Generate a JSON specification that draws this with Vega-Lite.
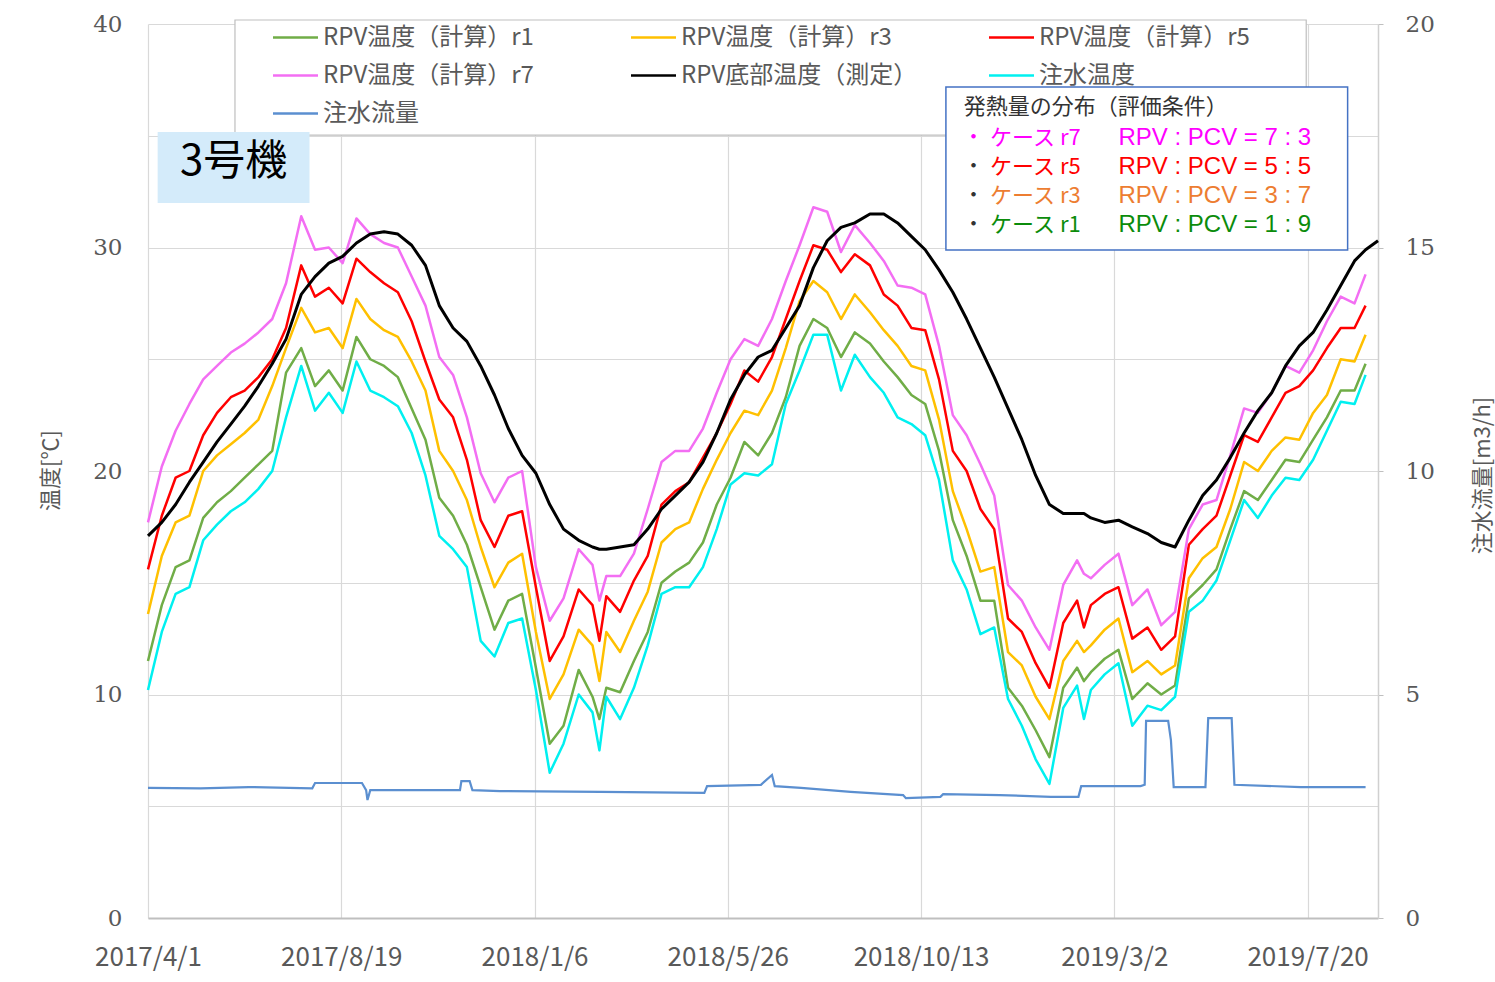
{
  "$schema": "https://vega.github.io/schema/vega-lite/v6.json",
  "width": 1230,
  "height": 894,
  "autosize": {"type": "none"},
  "padding": {"left": 148, "top": 24, "right": 117, "bottom": 64},
  "background": "white",
  "config": {"view": {"stroke": null}, "font": "Noto Sans CJK JP"},
  "datasets": {
    "temps": [
      {"date": "2017-04-01", "w": 10.2, "r1": 11.5, "r3": 13.6, "r5": 15.6, "r7": 17.7, "m": 17.1},
      {"date": "2017-04-11", "w": 12.8, "r1": 14.0, "r3": 16.2, "r5": 18.0, "r7": 20.2, "m": 17.7},
      {"date": "2017-04-21", "w": 14.5, "r1": 15.7, "r3": 17.7, "r5": 19.7, "r7": 21.8, "m": 18.5},
      {"date": "2017-05-01", "w": 14.8, "r1": 16.0, "r3": 18.0, "r5": 20.0, "r7": 23.0, "m": 19.5},
      {"date": "2017-05-11", "w": 16.9, "r1": 17.9, "r3": 20.0, "r5": 21.6, "r7": 24.1, "m": 20.4},
      {"date": "2017-05-21", "w": 17.6, "r1": 18.6, "r3": 20.7, "r5": 22.6, "r7": 24.7, "m": 21.3},
      {"date": "2017-05-31", "w": 18.2, "r1": 19.1, "r3": 21.2, "r5": 23.3, "r7": 25.3, "m": 22.1},
      {"date": "2017-06-10", "w": 18.6, "r1": 19.7, "r3": 21.7, "r5": 23.6, "r7": 25.7, "m": 22.9},
      {"date": "2017-06-20", "w": 19.2, "r1": 20.3, "r3": 22.3, "r5": 24.2, "r7": 26.2, "m": 23.8},
      {"date": "2017-06-30", "w": 20.0, "r1": 20.9, "r3": 23.8, "r5": 25.0, "r7": 26.8, "m": 24.8},
      {"date": "2017-07-10", "w": 22.4, "r1": 24.4, "r3": 25.5, "r5": 26.4, "r7": 28.4, "m": 25.9},
      {"date": "2017-07-21", "w": 24.7, "r1": 25.5, "r3": 27.3, "r5": 29.2, "r7": 31.4, "m": 27.9},
      {"date": "2017-07-31", "w": 22.7, "r1": 23.8, "r3": 26.2, "r5": 27.8, "r7": 29.9, "m": 28.7},
      {"date": "2017-08-10", "w": 23.5, "r1": 24.5, "r3": 26.4, "r5": 28.2, "r7": 30.0, "m": 29.3},
      {"date": "2017-08-20", "w": 22.6, "r1": 23.6, "r3": 25.5, "r5": 27.5, "r7": 29.3, "m": 29.6},
      {"date": "2017-08-30", "w": 24.9, "r1": 26.0, "r3": 27.7, "r5": 29.5, "r7": 31.3, "m": 30.2},
      {"date": "2017-09-09", "w": 23.6, "r1": 25.0, "r3": 26.8, "r5": 28.9, "r7": 30.6, "m": 30.6},
      {"date": "2017-09-19", "w": 23.3, "r1": 24.7, "r3": 26.3, "r5": 28.4, "r7": 30.2, "m": 30.7},
      {"date": "2017-09-29", "w": 22.9, "r1": 24.2, "r3": 26.0, "r5": 28.0, "r7": 30.0, "m": 30.6},
      {"date": "2017-10-09", "w": 21.7, "r1": 22.8, "r3": 24.9, "r5": 26.7, "r7": 28.7, "m": 30.1},
      {"date": "2017-10-19", "w": 19.8, "r1": 21.4, "r3": 23.6, "r5": 24.9, "r7": 27.4, "m": 29.2},
      {"date": "2017-10-29", "w": 17.1, "r1": 18.8, "r3": 20.9, "r5": 23.2, "r7": 25.1, "m": 27.4},
      {"date": "2017-11-08", "w": 16.5, "r1": 18.0, "r3": 20.0, "r5": 22.4, "r7": 24.3, "m": 26.4},
      {"date": "2017-11-18", "w": 15.7, "r1": 16.7, "r3": 18.7, "r5": 20.5, "r7": 22.4, "m": 25.8},
      {"date": "2017-11-28", "w": 12.4, "r1": 14.8, "r3": 16.6, "r5": 17.8, "r7": 19.9, "m": 24.7},
      {"date": "2017-12-08", "w": 11.7, "r1": 12.9, "r3": 14.8, "r5": 16.6, "r7": 18.6, "m": 23.4},
      {"date": "2017-12-18", "w": 13.2, "r1": 14.2, "r3": 15.9, "r5": 18.0, "r7": 19.7, "m": 21.9},
      {"date": "2017-12-28", "w": 13.4, "r1": 14.5, "r3": 16.3, "r5": 18.2, "r7": 20.0, "m": 20.7},
      {"date": "2018-01-07", "w": 10.2, "r1": 11.2, "r3": 12.8, "r5": 14.8, "r7": 15.7, "m": 19.9},
      {"date": "2018-01-17", "w": 6.5, "r1": 7.8, "r3": 9.8, "r5": 11.5, "r7": 13.3, "m": 18.5},
      {"date": "2018-01-27", "w": 7.8, "r1": 8.6, "r3": 10.9, "r5": 12.6, "r7": 14.3, "m": 17.4},
      {"date": "2018-02-07", "w": 10.0, "r1": 11.1, "r3": 12.9, "r5": 14.7, "r7": 16.5, "m": 16.9},
      {"date": "2018-02-17", "w": 9.2, "r1": 9.9, "r3": 12.2, "r5": 14.0, "r7": 15.8, "m": 16.6},
      {"date": "2018-02-22", "w": 7.5, "r1": 8.9, "r3": 10.6, "r5": 12.4, "r7": 14.2, "m": 16.5},
      {"date": "2018-02-27", "w": 9.9, "r1": 10.3, "r3": 12.8, "r5": 14.4, "r7": 15.3, "m": 16.5},
      {"date": "2018-03-09", "w": 8.9, "r1": 10.1, "r3": 11.9, "r5": 13.7, "r7": 15.3, "m": 16.6},
      {"date": "2018-03-19", "w": 10.3, "r1": 11.5, "r3": 13.3, "r5": 15.1, "r7": 16.3, "m": 16.7},
      {"date": "2018-03-29", "w": 12.2, "r1": 12.8, "r3": 14.6, "r5": 16.2, "r7": 18.3, "m": 17.4},
      {"date": "2018-04-08", "w": 14.5, "r1": 15.0, "r3": 16.8, "r5": 18.5, "r7": 20.4, "m": 18.3},
      {"date": "2018-04-18", "w": 14.8, "r1": 15.5, "r3": 17.4, "r5": 19.1, "r7": 20.9, "m": 18.9},
      {"date": "2018-04-28", "w": 14.8, "r1": 15.9, "r3": 17.7, "r5": 19.5, "r7": 20.9, "m": 19.5},
      {"date": "2018-05-08", "w": 15.7, "r1": 16.8, "r3": 19.2, "r5": 20.6, "r7": 21.9, "m": 20.4},
      {"date": "2018-05-18", "w": 17.4, "r1": 18.5, "r3": 20.5, "r5": 21.7, "r7": 23.5, "m": 21.7},
      {"date": "2018-05-28", "w": 19.4, "r1": 19.7, "r3": 21.7, "r5": 23.0, "r7": 25.0, "m": 23.2},
      {"date": "2018-06-07", "w": 19.9, "r1": 21.3, "r3": 22.7, "r5": 24.5, "r7": 25.9, "m": 24.3},
      {"date": "2018-06-17", "w": 19.8, "r1": 20.7, "r3": 22.5, "r5": 24.0, "r7": 25.6, "m": 25.1},
      {"date": "2018-06-27", "w": 20.3, "r1": 21.7, "r3": 23.6, "r5": 25.1, "r7": 26.8, "m": 25.4},
      {"date": "2018-07-07", "w": 23.0, "r1": 23.3, "r3": 25.5, "r5": 26.8, "r7": 28.5, "m": 26.4},
      {"date": "2018-07-17", "w": 24.5, "r1": 25.6, "r3": 27.6, "r5": 28.5, "r7": 30.1, "m": 27.4},
      {"date": "2018-07-27", "w": 26.1, "r1": 26.8, "r3": 28.5, "r5": 30.1, "r7": 31.8, "m": 29.1},
      {"date": "2018-08-06", "w": 26.1, "r1": 26.4, "r3": 28.0, "r5": 29.9, "r7": 31.6, "m": 30.3},
      {"date": "2018-08-16", "w": 23.6, "r1": 25.1, "r3": 26.8, "r5": 28.9, "r7": 29.8, "m": 30.9},
      {"date": "2018-08-26", "w": 25.2, "r1": 26.2, "r3": 27.9, "r5": 29.7, "r7": 31.0, "m": 31.1},
      {"date": "2018-09-06", "w": 24.2, "r1": 25.7, "r3": 27.1, "r5": 29.2, "r7": 30.2, "m": 31.5},
      {"date": "2018-09-16", "w": 23.5, "r1": 24.9, "r3": 26.3, "r5": 27.9, "r7": 29.4, "m": 31.5},
      {"date": "2018-09-26", "w": 22.4, "r1": 24.2, "r3": 25.6, "r5": 27.4, "r7": 28.3, "m": 31.1},
      {"date": "2018-10-06", "w": 22.1, "r1": 23.4, "r3": 24.7, "r5": 26.4, "r7": 28.2, "m": 30.5},
      {"date": "2018-10-16", "w": 21.6, "r1": 23.0, "r3": 24.5, "r5": 26.3, "r7": 27.9, "m": 29.9},
      {"date": "2018-10-26", "w": 19.6, "r1": 20.9, "r3": 22.3, "r5": 24.1, "r7": 25.6, "m": 29.0},
      {"date": "2018-11-05", "w": 16.0, "r1": 17.8, "r3": 19.1, "r5": 20.9, "r7": 22.5, "m": 28.0},
      {"date": "2018-11-15", "w": 14.7, "r1": 16.2, "r3": 17.4, "r5": 20.0, "r7": 21.6, "m": 26.8},
      {"date": "2018-11-25", "w": 12.7, "r1": 14.2, "r3": 15.5, "r5": 18.3, "r7": 20.3, "m": 25.5},
      {"date": "2018-12-05", "w": 13.0, "r1": 14.2, "r3": 15.7, "r5": 17.4, "r7": 18.9, "m": 24.2},
      {"date": "2018-12-15", "w": 9.8, "r1": 10.3, "r3": 11.9, "r5": 13.4, "r7": 14.9, "m": 22.8},
      {"date": "2018-12-25", "w": 8.6, "r1": 9.5, "r3": 11.3, "r5": 12.8, "r7": 14.2, "m": 21.4},
      {"date": "2019-01-04", "w": 7.1, "r1": 8.4, "r3": 9.9, "r5": 11.4, "r7": 13.0, "m": 19.8},
      {"date": "2019-01-14", "w": 6.0, "r1": 7.2, "r3": 8.9, "r5": 10.3, "r7": 12.0, "m": 18.5},
      {"date": "2019-01-24", "w": 9.4, "r1": 10.3, "r3": 11.5, "r5": 13.2, "r7": 14.9, "m": 18.1},
      {"date": "2019-02-03", "w": 10.4, "r1": 11.2, "r3": 12.4, "r5": 14.2, "r7": 16.0, "m": 18.1},
      {"date": "2019-02-08", "w": 8.9, "r1": 10.6, "r3": 11.9, "r5": 13.0, "r7": 15.4, "m": 18.1},
      {"date": "2019-02-13", "w": 10.2, "r1": 11.0, "r3": 12.2, "r5": 14.0, "r7": 15.2, "m": 17.9},
      {"date": "2019-02-23", "w": 10.9, "r1": 11.6, "r3": 12.9, "r5": 14.5, "r7": 15.8, "m": 17.7},
      {"date": "2019-03-05", "w": 11.4, "r1": 12.0, "r3": 13.4, "r5": 14.8, "r7": 16.3, "m": 17.8},
      {"date": "2019-03-15", "w": 8.6, "r1": 9.8, "r3": 11.0, "r5": 12.5, "r7": 14.0, "m": 17.5},
      {"date": "2019-03-26", "w": 9.5, "r1": 10.5, "r3": 11.5, "r5": 13.0, "r7": 14.7, "m": 17.2},
      {"date": "2019-04-05", "w": 9.3, "r1": 10.0, "r3": 10.9, "r5": 12.0, "r7": 13.1, "m": 16.8},
      {"date": "2019-04-15", "w": 9.9, "r1": 10.4, "r3": 11.3, "r5": 12.6, "r7": 13.7, "m": 16.6},
      {"date": "2019-04-25", "w": 13.7, "r1": 14.3, "r3": 15.2, "r5": 16.7, "r7": 17.4, "m": 17.8},
      {"date": "2019-05-05", "w": 14.2, "r1": 14.9, "r3": 16.1, "r5": 17.4, "r7": 18.5, "m": 18.9},
      {"date": "2019-05-15", "w": 15.1, "r1": 15.6, "r3": 16.6, "r5": 18.0, "r7": 18.7, "m": 19.6},
      {"date": "2019-05-25", "w": 16.9, "r1": 17.4, "r3": 18.3, "r5": 19.8, "r7": 20.7, "m": 20.6},
      {"date": "2019-06-04", "w": 18.7, "r1": 19.1, "r3": 20.4, "r5": 21.6, "r7": 22.8, "m": 21.7},
      {"date": "2019-06-14", "w": 17.9, "r1": 18.7, "r3": 20.0, "r5": 21.3, "r7": 22.6, "m": 22.7},
      {"date": "2019-06-24", "w": 18.9, "r1": 19.6, "r3": 20.9, "r5": 22.4, "r7": 23.5, "m": 23.5},
      {"date": "2019-07-04", "w": 19.7, "r1": 20.5, "r3": 21.5, "r5": 23.5, "r7": 24.7, "m": 24.7},
      {"date": "2019-07-14", "w": 19.6, "r1": 20.4, "r3": 21.4, "r5": 23.8, "r7": 24.4, "m": 25.6},
      {"date": "2019-07-24", "w": 20.5, "r1": 21.4, "r3": 22.6, "r5": 24.5, "r7": 25.4, "m": 26.2},
      {"date": "2019-08-03", "w": 21.8, "r1": 22.4, "r3": 23.4, "r5": 25.5, "r7": 26.7, "m": 27.2},
      {"date": "2019-08-13", "w": 23.1, "r1": 23.6, "r3": 25.0, "r5": 26.4, "r7": 27.8, "m": 28.3},
      {"date": "2019-08-23", "w": 23.0, "r1": 23.6, "r3": 24.9, "r5": 26.4, "r7": 27.5, "m": 29.4},
      {"date": "2019-08-31", "w": 24.3, "r1": 24.8, "r3": 26.1, "r5": 27.4, "r7": 28.8, "m": 29.9},
      {"date": "2019-09-09", "w": null, "r1": null, "r3": null, "r5": null, "r7": null, "m": 30.3}
    ],
    "flow": [
      {"date": "2017-04-01", "flow": 2.91},
      {"date": "2017-05-09", "flow": 2.9},
      {"date": "2017-06-13", "flow": 2.93},
      {"date": "2017-07-29", "flow": 2.9},
      {"date": "2017-07-31", "flow": 3.02},
      {"date": "2017-08-18", "flow": 3.02},
      {"date": "2017-09-03", "flow": 3.02},
      {"date": "2017-09-06", "flow": 2.86},
      {"date": "2017-09-07", "flow": 2.64},
      {"date": "2017-09-09", "flow": 2.86},
      {"date": "2017-10-01", "flow": 2.86},
      {"date": "2017-11-13", "flow": 2.86},
      {"date": "2017-11-14", "flow": 3.06},
      {"date": "2017-11-20", "flow": 3.06},
      {"date": "2017-11-22", "flow": 2.86},
      {"date": "2017-12-12", "flow": 2.84},
      {"date": "2018-02-23", "flow": 2.82},
      {"date": "2018-05-09", "flow": 2.8},
      {"date": "2018-05-11", "flow": 2.95},
      {"date": "2018-06-19", "flow": 2.98},
      {"date": "2018-06-27", "flow": 3.2},
      {"date": "2018-06-29", "flow": 2.95},
      {"date": "2018-07-18", "flow": 2.91},
      {"date": "2018-08-23", "flow": 2.82},
      {"date": "2018-09-30", "flow": 2.75},
      {"date": "2018-10-02", "flow": 2.68},
      {"date": "2018-10-27", "flow": 2.71},
      {"date": "2018-10-29", "flow": 2.77},
      {"date": "2018-12-09", "flow": 2.75},
      {"date": "2019-01-15", "flow": 2.71},
      {"date": "2019-02-04", "flow": 2.71},
      {"date": "2019-02-06", "flow": 2.95},
      {"date": "2019-03-21", "flow": 2.95},
      {"date": "2019-03-24", "flow": 2.98},
      {"date": "2019-03-25", "flow": 4.41},
      {"date": "2019-04-10", "flow": 4.41},
      {"date": "2019-04-12", "flow": 3.98},
      {"date": "2019-04-14", "flow": 2.93},
      {"date": "2019-05-07", "flow": 2.93},
      {"date": "2019-05-09", "flow": 4.47},
      {"date": "2019-05-26", "flow": 4.47},
      {"date": "2019-05-28", "flow": 2.98},
      {"date": "2019-07-15", "flow": 2.93},
      {"date": "2019-08-31", "flow": 2.93}
    ]
  },
  "layer": [
    {
      "data": {"values": [{}]},
      "layer": [
        {
          "data": {"name": "temps"},
          "transform": [{"fold": ["r1", "r3", "r5", "r7", "w", "m"], "as": ["key", "val"]}],
          "mark": {"type": "line", "strokeJoin": "round"},
          "encoding": {
            "x": {
              "field": "date", "type": "temporal",
              "scale": {"type": "utc", "domain": [{"year": 2017, "month": 4, "date": 1, "utc": true}, {"year": 2019, "month": 9, "date": 9, "utc": true}]},
              "axis": {
                "title": null,
                "values": [
                  {"year": 2017, "month": 4, "date": 1, "utc": true},
                  {"year": 2017, "month": 8, "date": 19, "utc": true},
                  {"year": 2018, "month": 1, "date": 6, "utc": true},
                  {"year": 2018, "month": 5, "date": 26, "utc": true},
                  {"year": 2018, "month": 10, "date": 13, "utc": true},
                  {"year": 2019, "month": 3, "date": 2, "utc": true},
                  {"year": 2019, "month": 7, "date": 20, "utc": true}
                ],
                "format": "%Y/%-m/%-d",
                "labelFont": "Noto Sans CJK JP", "labelFontSize": 26, "labelColor": "#595959",
                "labelPadding": 26, "labelFlush": false, "labelOverlap": false,
                "ticks": false, "domain": true, "domainColor": "#bfbfbf", "domainWidth": 2,
                "grid": true, "gridColor": "#d9d9d9", "gridWidth": 1.2
              }
            },
            "y": {
              "field": "val", "type": "quantitative",
              "scale": {"domain": [0, 40], "nice": false},
              "axis": {
                "values": [0, 5, 10, 15, 20, 25, 30, 35, 40],
                "labelExpr": "datum.value % 10 === 0 ? datum.label : ''",
                "labelFont": "DejaVu Serif", "labelFontSize": 23, "labelColor": "#595959",
                "labelPadding": 26, "labelOverlap": false,
                "ticks": false, "domain": false,
                "grid": true, "gridColor": "#d9d9d9", "gridWidth": 1.2,
                "title": "温度[℃]", "titleFont": "Noto Sans CJK JP", "titleFontSize": 22,
                "titleFontWeight": "normal", "titleColor": "#595959",
                "titleAngle": 270, "titleX": -98, "titleY": 446, "titleAlign": "center", "titleBaseline": "middle"
              }
            },
            "color": {
              "field": "key", "type": "nominal",
              "scale": {
                "domain": ["r1", "r3", "r5", "r7", "m", "w", "f"],
                "range": ["#70AD47", "#FFC000", "#FF0000", "#F36EF3", "#000000", "#00F0F0", "#5B8FD0"]
              },
              "legend": {
                "title": null, "orient": "none", "legendX": 135.5, "legendY": 1.5,
                "direction": "horizontal",
                "values": ["r1", "r3", "r5", "r7", "m", "w", "f"],
                "columns": 3, "gridAlign": "all", "columnPadding": 66, "rowPadding": 14, "padding": 0,
                "symbolType": "M-2.5,0H2.5", "symbolSize": 324, "symbolStrokeWidth": 2.5,
                "labelFont": "Noto Sans CJK JP", "labelFontSize": 24, "labelColor": "#595959",
                "labelOffset": 15.5, "labelLimit": 400,
                "labelExpr": "{'r1':'RPV温度（計算）r1','r3':'RPV温度（計算）r3','r5':'RPV温度（計算）r5','r7':'RPV温度（計算）r7','m':'RPV底部温度（測定）','w':'注水温度','f':'注水流量'}[datum.value]"
              }
            },
            "strokeWidth": {"condition": {"test": "datum.key === 'm'", "value": 3}, "value": 2.5}
          }
        },
        {
          "mark": {"type": "rect", "fill": "white", "stroke": "#bfbfbf", "strokeWidth": 1.2},
          "encoding": {
            "x": {"datum": {"year": 2017, "month": 6, "date": 3, "utc": true}, "type": "temporal"},
            "x2": {"datum": {"year": 2019, "month": 7, "date": 19, "utc": true}},
            "y": {"datum": 40.18, "type": "quantitative"},
            "y2": {"datum": 35.03}
          }
        },
        {
          "mark": {"type": "rect", "fill": "white", "stroke": "#4472C4", "strokeWidth": 1.5},
          "encoding": {
            "x": {"datum": {"year": 2018, "month": 10, "date": 31, "utc": true}, "type": "temporal"},
            "x2": {"datum": {"year": 2019, "month": 8, "date": 18, "utc": true}},
            "y": {"datum": 37.18, "type": "quantitative"},
            "y2": {"datum": 29.89}
          }
        },
        {
          "mark": {"type": "text", "text": "発熱量の分布（評価条件）", "align": "left", "baseline": "middle", "fontSize": 22, "color": "#333333", "font": "Noto Sans CJK JP"},
          "encoding": {
            "x": {"datum": {"year": 2018, "month": 11, "date": 13, "utc": true}, "type": "temporal"},
            "y": {"datum": 36.29, "type": "quantitative"}
          }
        },
        {
          "mark": {"type": "text", "text": "・", "align": "center", "baseline": "middle", "fontSize": 21, "color": "#FF00FF", "font": "Noto Sans CJK JP"},
          "encoding": {
            "x": {"datum": {"year": 2018, "month": 11, "date": 20, "utc": true}, "type": "temporal"},
            "y": {"datum": 34.9, "type": "quantitative"}
          }
        },
        {
          "mark": {"type": "text", "text": "ケース r7", "align": "left", "baseline": "middle", "fontSize": 22, "color": "#FF00FF", "font": "Noto Sans CJK JP"},
          "encoding": {
            "x": {"datum": {"year": 2018, "month": 12, "date": 2, "utc": true}, "type": "temporal"},
            "y": {"datum": 34.9, "type": "quantitative"}
          }
        },
        {
          "mark": {"type": "text", "text": "RPV : PCV = 7 : 3", "align": "left", "baseline": "middle", "fontSize": 24, "color": "#FF00FF", "font": "Liberation Sans"},
          "encoding": {
            "x": {"datum": {"year": 2019, "month": 3, "date": 5, "utc": true}, "type": "temporal"},
            "y": {"datum": 34.9, "type": "quantitative"}
          }
        },
        {
          "mark": {"type": "text", "text": "・", "align": "center", "baseline": "middle", "fontSize": 21, "color": "#333333", "font": "Noto Sans CJK JP"},
          "encoding": {
            "x": {"datum": {"year": 2018, "month": 11, "date": 20, "utc": true}, "type": "temporal"},
            "y": {"datum": 33.6, "type": "quantitative"}
          }
        },
        {
          "mark": {"type": "text", "text": "ケース r5", "align": "left", "baseline": "middle", "fontSize": 22, "color": "#FF0000", "font": "Noto Sans CJK JP"},
          "encoding": {
            "x": {"datum": {"year": 2018, "month": 12, "date": 2, "utc": true}, "type": "temporal"},
            "y": {"datum": 33.6, "type": "quantitative"}
          }
        },
        {
          "mark": {"type": "text", "text": "RPV : PCV = 5 : 5", "align": "left", "baseline": "middle", "fontSize": 24, "color": "#FF0000", "font": "Liberation Sans"},
          "encoding": {
            "x": {"datum": {"year": 2019, "month": 3, "date": 5, "utc": true}, "type": "temporal"},
            "y": {"datum": 33.6, "type": "quantitative"}
          }
        },
        {
          "mark": {"type": "text", "text": "・", "align": "center", "baseline": "middle", "fontSize": 21, "color": "#333333", "font": "Noto Sans CJK JP"},
          "encoding": {
            "x": {"datum": {"year": 2018, "month": 11, "date": 20, "utc": true}, "type": "temporal"},
            "y": {"datum": 32.3, "type": "quantitative"}
          }
        },
        {
          "mark": {"type": "text", "text": "ケース r3", "align": "left", "baseline": "middle", "fontSize": 22, "color": "#ED7D31", "font": "Noto Sans CJK JP"},
          "encoding": {
            "x": {"datum": {"year": 2018, "month": 12, "date": 2, "utc": true}, "type": "temporal"},
            "y": {"datum": 32.3, "type": "quantitative"}
          }
        },
        {
          "mark": {"type": "text", "text": "RPV : PCV = 3 : 7", "align": "left", "baseline": "middle", "fontSize": 24, "color": "#ED7D31", "font": "Liberation Sans"},
          "encoding": {
            "x": {"datum": {"year": 2019, "month": 3, "date": 5, "utc": true}, "type": "temporal"},
            "y": {"datum": 32.3, "type": "quantitative"}
          }
        },
        {
          "mark": {"type": "text", "text": "・", "align": "center", "baseline": "middle", "fontSize": 21, "color": "#333333", "font": "Noto Sans CJK JP"},
          "encoding": {
            "x": {"datum": {"year": 2018, "month": 11, "date": 20, "utc": true}, "type": "temporal"},
            "y": {"datum": 31.0, "type": "quantitative"}
          }
        },
        {
          "mark": {"type": "text", "text": "ケース r1", "align": "left", "baseline": "middle", "fontSize": 22, "color": "#0B8C0B", "font": "Noto Sans CJK JP"},
          "encoding": {
            "x": {"datum": {"year": 2018, "month": 12, "date": 2, "utc": true}, "type": "temporal"},
            "y": {"datum": 31.0, "type": "quantitative"}
          }
        },
        {
          "mark": {"type": "text", "text": "RPV : PCV = 1 : 9", "align": "left", "baseline": "middle", "fontSize": 24, "color": "#0B8C0B", "font": "Liberation Sans"},
          "encoding": {
            "x": {"datum": {"year": 2019, "month": 3, "date": 5, "utc": true}, "type": "temporal"},
            "y": {"datum": 31.0, "type": "quantitative"}
          }
        },
        {
          "mark": {"type": "rect", "fill": "#D4EBFA"},
          "encoding": {
            "x": {"datum": {"year": 2017, "month": 4, "date": 8, "utc": true}, "type": "temporal"},
            "x2": {"datum": {"year": 2017, "month": 7, "date": 27, "utc": true}},
            "y": {"datum": 35.17, "type": "quantitative"},
            "y2": {"datum": 31.99}
          }
        },
        {
          "mark": {"type": "text", "text": "3号機", "align": "center", "baseline": "middle", "fontSize": 42, "color": "#000000", "font": "Noto Sans CJK JP"},
          "encoding": {
            "x": {"datum": {"year": 2017, "month": 6, "date": 2, "utc": true}, "type": "temporal"},
            "y": {"datum": 33.83, "type": "quantitative"}
          }
        }
      ]
    },
    {
      "data": {"name": "flow"},
      "mark": {"type": "line", "strokeWidth": 2.2},
      "encoding": {
        "x": {"field": "date", "type": "temporal"},
        "y": {
          "field": "flow", "type": "quantitative",
          "scale": {"domain": [0, 20], "nice": false},
          "axis": {
            "orient": "right",
            "values": [0, 5, 10, 15, 20],
            "labelFont": "DejaVu Serif", "labelFontSize": 23, "labelColor": "#595959",
            "labelPadding": 22, "labelOverlap": false,
            "ticks": true, "tickSize": 5, "tickColor": "#bfbfbf",
            "domain": true, "domainColor": "#d0d0d0", "domainWidth": 1.5,
            "grid": false,
            "title": "注水流量[m3/h]", "titleFont": "Noto Sans CJK JP", "titleFontSize": 22,
            "titleFontWeight": "normal", "titleColor": "#595959",
            "titleAngle": 270, "titleX": 104, "titleY": 451, "titleAlign": "center", "titleBaseline": "middle"
          }
        },
        "color": {
          "datum": "f",
          "scale": {
            "domain": ["r1", "r3", "r5", "r7", "m", "w", "f"],
            "range": ["#70AD47", "#FFC000", "#FF0000", "#F36EF3", "#000000", "#00F0F0", "#5B8FD0"]
          }
        }
      }
    }
  ],
  "resolve": {"scale": {"y": "independent"}}
}
